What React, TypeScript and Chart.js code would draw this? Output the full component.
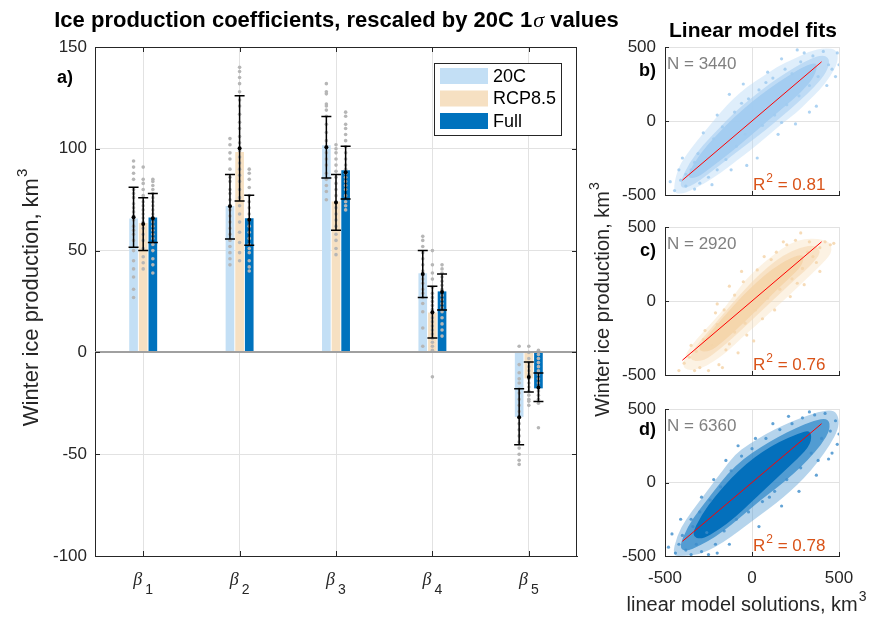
import React, { useEffect, useRef } from 'react';
import { Chart, registerables } from 'chart.js';

Chart.register(...registerables);

const W = 874;
const H = 618;
const FONT = '"Liberation Sans", Arial, Helvetica, sans-serif';
const SERIF = '"Liberation Serif", "DejaVu Serif", serif';
const AX = '#262626';
const GRID = '#e2e2e2';

// ---------------- Panel a data ----------------
const CATEGORY_SUBSCRIPTS = ['1', '2', '3', '4', '5'];
const SERIES_LABELS = ['20C', 'RCP8.5', 'Full'];
const SERIES_COLORS = ['#c3dff5', '#f6e0c2', '#0072bd'];
const SERIES_OFFSETS = [-0.1, 0, 0.1];
const Y_TICKS_A = [-100, -50, 0, 50, 100, 150];

const BAR_20C = [65.6, 71.8, 101.6, 38.7, -31.5];
const BAR_RCP85 = [63.4, 98.3, 73.9, 19.4, -12.6];
const BAR_FULL = [66.1, 65.7, 89.3, 29.8, -17.5];

const MEAN_20C = [66.4, 71.8, 100.8, 38.5, -31.8];
const MEAN_RCP85 = [63.1, 100.3, 73.6, 19.7, -12.1];
const MEAN_FULL = [65.9, 65.1, 88.5, 29.7, -17.2];

const LOW_20C = [51.6, 55.7, 85.7, 27.0, -45.4];
const HIGH_20C = [81.1, 87.4, 115.9, 50.1, -17.8];
const LOW_RCP85 = [50.1, 74.4, 60.0, 7.1, -19.5];
const HIGH_RCP85 = [76.0, 126.0, 87.4, 32.5, -4.7];
const LOW_FULL = [54.0, 52.6, 75.4, 20.8, -24.1];
const HIGH_FULL = [78.0, 77.2, 101.3, 38.5, -10.1];

const MEMBERS_20C = [
  [94, 91, 88, 85, 80, 78, 76, 73, 71, 69, 67, 65, 62, 60, 58, 55, 50, 45, 41, 37, 31, 27],
  [105, 102, 98, 95, 90, 86, 84, 80, 78, 75, 72, 70, 67, 64, 61, 58, 55, 52, 49, 46, 43],
  [132, 128, 127, 122, 121, 119, 116, 112, 108, 104, 101, 98, 95, 92, 88, 85, 82, 79, 75],
  [57, 55, 52, 49, 46, 43, 40, 38, 36, 34, 31, 29, 27, 24, 20, 12, 3],
  [3, -6, -10, -13, -15, -18, -20, -23, -26, -29, -32, -35, -38, -41, -44, -47, -50, -53, -55],
];
const MEMBERS_RCP85 = [
  [91, 85, 83, 80, 77, 74, 72, 70, 68, 66, 64, 61, 58, 55, 51, 47, 44, 41],
  [140, 138, 135, 132, 128, 124, 121, 117, 113, 110, 106, 103, 99, 96, 93, 90, 87, 84, 80, 76, 72, 68, 64, 59, 54, 49, 45],
  [102, 100, 98, 95, 92, 89, 86, 83, 80, 77, 74, 71, 68, 65, 62, 58, 55, 51, 48],
  [50, 43, 39, 36, 32, 29, 27, 25, 23, 21, 19, 17, 15, 13, 11, 9, 7, 5, 3, 1, -12],
  [3, 0, -3, -5, -7, -9, -11, -13, -15, -17, -19, -21, -23, -24, -26],
];
const MEMBERS_FULL = [
  [85, 84, 82, 80, 78, 76, 74, 72, 70, 68, 66, 64, 62, 60, 58, 56, 53, 50, 46, 43, 39],
  [90, 88, 85, 81, 77, 74, 71, 68, 65, 62, 59, 56, 53, 51, 49, 45, 42, 40],
  [118, 116, 112, 110, 107, 104, 101, 98, 95, 92, 90, 88, 86, 84, 82, 80, 77, 74, 72, 70],
  [43, 41, 39, 37, 35, 33, 31, 30, 28, 26, 24, 22, 20, 17, 14, 11, 8],
  [1, -1, -3, -5, -7, -9, -11, -13, -15, -17, -19, -21, -23, -25, -37],
];

// ---------------- Panels b-d data ----------------
const AXIS_TICKS_BD = [-500, 0, 500];
const FIT_X = [-400, 400];
const FIT_Y = [-400, 400];

const CLOUD_B_OUTER = [
  [-455, -480], [-430, -330], [-380, -230], [-320, -140], [-250, -40], [-180, 60], [-110, 150], [-30, 230],
  [60, 300], [150, 370], [240, 420], [330, 470], [420, 495], [490, 480], [495, 400], [450, 300], [390, 210],
  [320, 130], [250, 50], [170, -20], [90, -100], [0, -190], [-90, -270], [-180, -350], [-270, -420],
  [-350, -470], [-410, -495],
];
const CLOUD_B_MID = [
  [-420, -430], [-360, -280], [-280, -160], [-190, -50], [-100, 60], [0, 160], [100, 250], [200, 330],
  [300, 400], [400, 450], [450, 420], [430, 330], [360, 230], [270, 130], [180, 40], [80, -60], [-20, -150],
  [-120, -240], [-220, -330], [-320, -420], [-390, -460],
];
const CLOUD_B_CORE = [
  [-380, -380], [-300, -220], [-200, -90], [-100, 30], [0, 130], [100, 220], [200, 300], [300, 370],
  [380, 400], [360, 300], [280, 190], [180, 90], [80, -10], [-20, -110], [-120, -210], [-220, -300], [-320, -390],
];
const POINTS_B = [
  [-445, -470], [-410, -400], [-380, -440], [-350, -330], [-300, -420], [-420, -330], [-260, -250], [-310, -220],
  [-200, -330], [-220, -120], [-150, -260], [-170, -40], [-90, -170], [-100, 60], [-40, -90], [-20, 150],
  [60, -30], [40, 210], [130, 40], [120, 290], [200, 110], [190, 350], [270, 170], [280, 400], [330, 240],
  [350, 440], [380, 300], [410, 470], [440, 380], [460, 350], [490, 460], [480, 300], [300, 460], [-330, -280],
  [-250, -380], [-60, 120], [80, 260], [230, 320], [-380, -360], [170, -10],
  [-470, -410], [-400, -250], [-330, -460], [-230, -430], [-120, -330], [-280, -80], [-200, 40], [-130, 180],
  [-50, 250], [30, -250], [150, -90], [250, -20], [370, 100], [430, 240], [500, 380], [260, 480], [170, 420],
  [90, 330], [-30, -300], [330, 60],
];

const CLOUD_C_OUTER = [
  [-400, -440], [-380, -350], [-320, -260], [-250, -170], [-180, -80], [-110, 30], [-40, 140], [40, 230],
  [130, 320], [220, 390], [300, 420], [380, 420], [450, 400], [460, 330], [420, 270], [340, 180], [260, 90],
  [180, 0], [100, -80], [20, -170], [-60, -250], [-140, -340], [-220, -410], [-300, -460], [-370, -470],
];
const CLOUD_C_MID = [
  [-370, -400], [-320, -300], [-240, -190], [-160, -80], [-80, 30], [0, 130], [90, 230], [180, 310],
  [270, 360], [360, 380], [400, 330], [340, 240], [260, 160], [170, 60], [80, -40], [-10, -140],
  [-100, -240], [-190, -330], [-280, -410],
];
const CLOUD_C_CORE = [
  [-320, -330], [-240, -210], [-150, -90], [-60, 30], [30, 130], [120, 220], [220, 290], [300, 320],
  [290, 240], [210, 150], [120, 50], [30, -60], [-60, -160], [-150, -260], [-250, -350],
];
const POINTS_C = [
  [-390, -420], [-360, -380], [-320, -340], [-300, -450], [-250, -470], [-190, -430], [-280, -260], [-230, -300],
  [-200, -160], [-150, -330], [-160, -60], [-100, -210], [-100, 40], [-40, -150], [-50, 130], [20, -60],
  [30, 210], [90, 20], [110, 280], [160, 80], [200, 380], [230, 150], [250, 410], [290, 220], [320, 330],
  [370, 260], [390, 360], [420, 400], [450, 380], [330, 400], [-210, -80], [60, -120], [260, 120], [-130, -290],
  [140, 330],
  [-420, -470], [-350, -300], [-270, -200], [-330, -470], [-170, -450], [-80, -350], [-200, -20], [-130, 100],
  [-60, 200], [10, -270], [130, -60], [220, 30], [300, 110], [390, 200], [470, 390], [280, 460], [180, 400],
  [70, 300], [-30, -230], [350, 300],
];

const CLOUD_D_OUTER = [
  [-460, -500], [-430, -360], [-380, -250], [-310, -140], [-240, -30], [-170, 80], [-100, 190], [-20, 260],
  [80, 330], [180, 390], [280, 440], [380, 480], [470, 495], [500, 440], [495, 360], [450, 260], [380, 140],
  [300, 30], [220, -60], [140, -140], [60, -210], [-30, -290], [-120, -370], [-210, -440], [-300, -490], [-390, -500],
];
const CLOUD_D_MID = [
  [-420, -440], [-370, -300], [-300, -180], [-220, -60], [-140, 60], [-50, 160], [50, 240], [150, 310],
  [250, 370], [350, 420], [440, 440], [450, 360], [400, 260], [320, 150], [240, 60], [150, -30], [60, -110],
  [-30, -200], [-120, -290], [-210, -370], [-300, -430], [-380, -470],
];
const CLOUD_D_CORE = [
  [-350, -360], [-290, -220], [-210, -90], [-120, 30], [-30, 130], [60, 210], [160, 280], [260, 330],
  [340, 360], [340, 260], [260, 160], [170, 60], [80, -40], [-10, -140], [-100, -240], [-190, -320], [-290, -390],
];
const POINTS_D = [
  [-440, -480], [-420, -420], [-400, -360], [-380, -460], [-340, -300], [-320, -420], [-290, -470], [-300, -200],
  [-260, -340], [-240, -120], [-210, -420], [-180, -30], [-160, -330], [-120, 80], [-90, -250], [-60, 180],
  [-20, -200], [0, 230], [60, -130], [80, 300], [130, -60], [160, 360], [200, 20], [230, 400], [280, 100],
  [290, 440], [340, 200], [360, 460], [400, 300], [420, 470], [450, 350], [480, 420], [490, 260], [440, 160],
  [-350, -250], [-200, -480], [100, -100], [380, 150],
  [-480, -440], [-460, -350], [-410, -250], [-350, -490], [-250, -490], [-130, -420], [-290, -100], [-220, 20],
  [-150, 150], [-80, 250], [20, 300], [40, -300], [170, -160], [270, -60], [370, 50], [460, 200], [500, 330],
  [330, 480], [210, 450], [120, 400],
];

const PANEL_LETTERS = ['b)', 'c)', 'd)'];
const PANEL_N = ['N = 3440', 'N = 2920', 'N = 6360'];
const PANEL_R2 = ['0.81', '0.76', '0.78'];

// ---------------- helpers ----------------
function crisp(v: number) {
  return Math.round(v) + 0.5;
}

function drawSupText(ctx: any, x: number, y: number, base: string, sup: string, size: number, align: 'left' | 'center', weight = '') {
  ctx.font = `${weight}${size}px ${FONT}`;
  const w1 = ctx.measureText(base).width;
  ctx.font = `${weight}${Math.round(size * 0.7)}px ${FONT}`;
  const w2 = ctx.measureText(sup).width;
  const start = align === 'center' ? x - (w1 + w2) / 2 : x;
  ctx.textAlign = 'left';
  ctx.textBaseline = 'alphabetic';
  ctx.font = `${weight}${size}px ${FONT}`;
  ctx.fillText(base, start, y);
  ctx.font = `${weight}${Math.round(size * 0.7)}px ${FONT}`;
  ctx.fillText(sup, start + w1 + 1, y - size * 0.5);
}

// ---------------- Panel a ----------------
function MainChart() {
  const ref = useRef<HTMLCanvasElement | null>(null);
  useEffect(() => {
    const canvas = ref.current;
    if (!canvas) return;
    const barSeries = [BAR_20C, BAR_RCP85, BAR_FULL];
    const meanSeries = [MEAN_20C, MEAN_RCP85, MEAN_FULL];
    const lowSeries = [LOW_20C, LOW_RCP85, LOW_FULL];
    const highSeries = [HIGH_20C, HIGH_RCP85, HIGH_FULL];
    const memberSeries = [MEMBERS_20C, MEMBERS_RCP85, MEMBERS_FULL];
    const memberPoints: { x: number; y: number }[] = [];
    memberSeries.forEach((ser, s) =>
      ser.forEach((vals, c) => vals.forEach((v) => memberPoints.push({ x: c + 1 + SERIES_OFFSETS[s], y: v })))
    );

    const decor = {
      id: 'panelADecor',
      afterDatasetsDraw(chart: any) {
        const { ctx, chartArea: a } = chart;
        const xs = chart.scales.x;
        const ys = chart.scales.y;
        ctx.save();
        const y0 = Math.round(ys.getPixelForValue(0));
        ctx.strokeStyle = '#a0a0a0';
        ctx.lineWidth = 2;
        ctx.beginPath();
        ctx.moveTo(a.left, y0);
        ctx.lineTo(a.right, y0);
        ctx.stroke();
        ctx.strokeStyle = '#000';
        ctx.fillStyle = '#000';
        ctx.lineWidth = 1.5;
        for (let s = 0; s < barSeries.length; s++) {
          for (let c = 0; c < CATEGORY_SUBSCRIPTS.length; c++) {
            const px = xs.getPixelForValue(c + 1 + SERIES_OFFSETS[s]);
            const lo = ys.getPixelForValue(lowSeries[s][c]);
            const hi = ys.getPixelForValue(highSeries[s][c]);
            const m = ys.getPixelForValue(meanSeries[s][c]);
            ctx.beginPath();
            ctx.moveTo(px, lo);
            ctx.lineTo(px, hi);
            ctx.moveTo(px - 5, lo);
            ctx.lineTo(px + 5, lo);
            ctx.moveTo(px - 5, hi);
            ctx.lineTo(px + 5, hi);
            ctx.stroke();
            ctx.beginPath();
            ctx.arc(px, m, 2, 0, Math.PI * 2);
            ctx.fill();
          }
        }
        ctx.strokeStyle = AX;
        ctx.lineWidth = 1;
        ctx.beginPath();
        ctx.moveTo(crisp(a.left), crisp(a.top));
        ctx.lineTo(crisp(a.right - 1), crisp(a.top));
        ctx.lineTo(crisp(a.right - 1), crisp(a.bottom));
        for (const v of Y_TICKS_A) {
          const py = crisp(ys.getPixelForValue(v));
          ctx.moveTo(a.left, py);
          ctx.lineTo(a.left + 5, py);
          ctx.moveTo(a.right, py);
          ctx.lineTo(a.right - 5, py);
        }
        for (let c = 0; c < CATEGORY_SUBSCRIPTS.length; c++) {
          const px = crisp(xs.getPixelForValue(c + 1));
          ctx.moveTo(px, a.top);
          ctx.lineTo(px, a.top + 5);
          ctx.moveTo(px, a.bottom);
          ctx.lineTo(px, a.bottom - 5);
        }
        ctx.stroke();
        ctx.restore();
      },
      afterDraw(chart: any) {
        const { ctx } = chart;
        const xs = chart.scales.x;
        ctx.save();
        const lx = 434, ly = 63, lw = 127, lh = 72;
        ctx.fillStyle = '#fff';
        ctx.fillRect(lx, ly, lw, lh);
        ctx.strokeStyle = AX;
        ctx.lineWidth = 1;
        ctx.strokeRect(lx + 0.5, ly + 0.5, lw, lh);
        const rowY = [76, 98.5, 121];
        ctx.font = `18px ${FONT}`;
        ctx.textBaseline = 'middle';
        ctx.textAlign = 'left';
        SERIES_LABELS.forEach((lab, i) => {
          ctx.fillStyle = SERIES_COLORS[i];
          ctx.fillRect(440, rowY[i] - 8, 48, 16);
          ctx.fillStyle = '#000';
          ctx.fillText(lab, 493, rowY[i] + 1);
        });
        ctx.fillStyle = '#000';
        ctx.textBaseline = 'alphabetic';
        const p1 = 'Ice production coefficients, rescaled by 20C 1';
        const p2 = 'σ';
        const p3 = ' values';
        ctx.font = `bold 22px ${FONT}`;
        const w1 = ctx.measureText(p1).width;
        const w3 = ctx.measureText(p3).width;
        ctx.font = `italic 22px ${SERIF}`;
        const w2 = ctx.measureText(p2).width;
        const tx = 336 - (w1 + w2 + w3) / 2;
        ctx.font = `bold 22px ${FONT}`;
        ctx.fillText(p1, tx, 27);
        ctx.font = `italic 22px ${SERIF}`;
        ctx.fillText(p2, tx + w1 + 1, 27);
        ctx.font = `bold 22px ${FONT}`;
        ctx.fillText(p3, tx + w1 + w2 + 1, 27);
        ctx.font = `bold 18px ${FONT}`;
        ctx.fillText('a)', 57, 83);
        ctx.fillStyle = AX;
        CATEGORY_SUBSCRIPTS.forEach((sub, c) => {
          const px = xs.getPixelForValue(c + 1);
          ctx.font = `italic 18px ${SERIF}`;
          const wb = ctx.measureText('β').width;
          ctx.font = `14px ${FONT}`;
          const ws = ctx.measureText(sub).width;
          const start = px - (wb + 3 + ws) / 2;
          ctx.font = `italic 18px ${SERIF}`;
          ctx.fillText('β', start, 585);
          ctx.font = `14px ${FONT}`;
          ctx.fillText(sub, start + wb + 3, 594);
        });
        ctx.translate(30, 298);
        ctx.rotate(-Math.PI / 2);
        ctx.fillStyle = AX;
        drawSupText(ctx, 0, 8, 'Winter ice production, km', '3', 22, 'center');
        ctx.restore();
      },
    };

    const chart = new Chart(canvas, {
      type: 'bar',
      data: {
        datasets: [
          {
            type: 'scatter',
            label: 'ensemble members',
            data: memberPoints,
            pointRadius: 1.8,
            pointHoverRadius: 1.8,
            backgroundColor: '#b6b6b6',
            borderWidth: 0,
            order: 0,
          } as any,
          ...barSeries.map((vals, s) => ({
            type: 'bar',
            label: SERIES_LABELS[s],
            data: vals.map((v, c) => ({ x: c + 1 + SERIES_OFFSETS[s], y: v })),
            backgroundColor: SERIES_COLORS[s],
            borderWidth: 0,
            barThickness: 8,
            grouped: false,
            order: 1,
          })),
        ],
      } as any,
      options: {
        responsive: false,
        animation: false,
        events: [],
        layout: { padding: { left: 0, top: 47, right: W - 577, bottom: 0 } },
        plugins: { legend: { display: false }, tooltip: { enabled: false }, title: { display: false } },
        scales: {
          x: {
            type: 'linear',
            min: 0.5,
            max: 5.5,
            offset: false,
            afterBuildTicks: (s: any) => {
              s.ticks = CATEGORY_SUBSCRIPTS.map((_, i) => ({ value: i + 1 }));
            },
            afterFit: (s: any) => {
              s.height = 62;
            },
            ticks: { display: false },
            grid: { color: GRID, drawTicks: false, offset: false },
            border: { display: true, color: AX, width: 1 },
          },
          y: {
            type: 'linear',
            min: -100,
            max: 150,
            afterBuildTicks: (s: any) => {
              s.ticks = Y_TICKS_A.map((v) => ({ value: v }));
            },
            afterFit: (s: any) => {
              s.width = 95;
            },
            ticks: { font: { size: 17, family: FONT }, color: AX, padding: 8 },
            grid: { color: GRID, drawTicks: false },
            border: { display: true, color: AX, width: 1 },
          },
        },
      } as any,
      plugins: [decor],
    });
    return () => chart.destroy();
  }, []);
  return <canvas ref={ref} width={W} height={H} style={{ position: 'absolute', left: 0, top: 0 }} />;
}

// ---------------- Panels b-d ----------------
const PANEL_CFG = [
  {
    top: 47, bottom: 195, layers: [CLOUD_B_OUTER, CLOUD_B_MID, CLOUD_B_CORE], points: POINTS_B,
    layerColors: ['rgba(176,212,244,0.4)', 'rgba(168,207,242,0.6)', 'rgba(160,202,240,0.85)'],
    pointColor: 'rgba(160,203,240,0.85)', letterBase: 76, showX: false,
  },
  {
    top: 227, bottom: 375, layers: [CLOUD_C_OUTER, CLOUD_C_MID, CLOUD_C_CORE], points: POINTS_C,
    layerColors: ['rgba(247,222,186,0.4)', 'rgba(246,217,178,0.6)', 'rgba(244,212,168,0.85)'],
    pointColor: 'rgba(245,213,170,0.85)', letterBase: 256, showX: false,
  },
  {
    top: 409, bottom: 556, layers: [CLOUD_D_OUTER, CLOUD_D_MID, CLOUD_D_CORE], points: POINTS_D,
    layerColors: ['rgba(90,160,212,0.45)', 'rgba(40,132,200,0.7)', 'rgba(0,110,186,0.95)'],
    pointColor: 'rgba(60,140,202,0.8)', letterBase: 435, showX: true,
  },
];

function ScatterPanel({ idx }: { idx: number }) {
  const ref = useRef<HTMLCanvasElement | null>(null);
  useEffect(() => {
    const canvas = ref.current;
    if (!canvas) return;
    const cfg = PANEL_CFG[idx];

    const cloud = {
      id: 'cloud' + idx,
      beforeDatasetsDraw(chart: any) {
        const { ctx, chartArea: a } = chart;
        const xs = chart.scales.x;
        const ys = chart.scales.y;
        ctx.save();
        ctx.beginPath();
        ctx.rect(a.left, a.top, a.right - a.left, a.bottom - a.top);
        ctx.clip();
        const smoothPoly = (pts: number[][], color: string) => {
          const px = pts.map(([x, y]) => [xs.getPixelForValue(x), ys.getPixelForValue(y)]);
          const n = px.length;
          const mid = (i: number) => {
            const p = px[i % n];
            const q = px[(i + 1) % n];
            return [(p[0] + q[0]) / 2, (p[1] + q[1]) / 2];
          };
          ctx.beginPath();
          const m0 = mid(n - 1);
          ctx.moveTo(m0[0], m0[1]);
          for (let i = 0; i < n; i++) {
            const m = mid(i);
            ctx.quadraticCurveTo(px[i][0], px[i][1], m[0], m[1]);
          }
          ctx.closePath();
          ctx.fillStyle = color;
          ctx.fill();
        };
        cfg.layers.forEach((layer, i) => smoothPoly(layer, cfg.layerColors[i]));
        ctx.restore();
      },
    };

    const decor = {
      id: 'decor' + idx,
      afterDatasetsDraw(chart: any) {
        const { ctx, chartArea: a } = chart;
        const xs = chart.scales.x;
        const ys = chart.scales.y;
        ctx.save();
        ctx.strokeStyle = AX;
        ctx.lineWidth = 1;
        ctx.beginPath();
        for (const v of AXIS_TICKS_BD) {
          const px = crisp(xs.getPixelForValue(v));
          ctx.moveTo(px, a.bottom);
          ctx.lineTo(px, a.bottom - 4);
          const py = crisp(ys.getPixelForValue(v));
          ctx.moveTo(a.left, py);
          ctx.lineTo(a.left + 4, py);
        }
        ctx.stroke();
        ctx.fillStyle = '#808080';
        ctx.font = `17px ${FONT}`;
        ctx.textAlign = 'left';
        ctx.textBaseline = 'alphabetic';
        ctx.fillText(PANEL_N[idx], 667, a.top + 22);
        ctx.fillStyle = '#d95319';
        ctx.font = `17px ${FONT}`;
        const wr = ctx.measureText('R').width;
        ctx.fillText('R', 753, a.bottom - 5);
        ctx.font = `12px ${FONT}`;
        const w2 = ctx.measureText('2').width;
        ctx.fillText('2', 753 + wr + 1, a.bottom - 13);
        ctx.font = `17px ${FONT}`;
        ctx.fillText(' = ' + PANEL_R2[idx], 753 + wr + w2 + 1, a.bottom - 5);
        ctx.restore();
      },
      afterDraw(chart: any) {
        const { ctx } = chart;
        ctx.save();
        ctx.fillStyle = '#000';
        ctx.textBaseline = 'alphabetic';
        ctx.font = `bold 18px ${FONT}`;
        ctx.textAlign = 'right';
        ctx.fillText(PANEL_LETTERS[idx], 656, cfg.letterBase);
        if (idx === 0) {
          ctx.textAlign = 'center';
          ctx.font = `bold 21px ${FONT}`;
          ctx.fillText('Linear model fits', 753, 37);
        }
        if (idx === 1) {
          ctx.fillStyle = AX;
          ctx.translate(602, 300);
          ctx.rotate(-Math.PI / 2);
          drawSupText(ctx, 0, 7, 'Winter ice production, km', '3', 20, 'center');
          ctx.setTransform(1, 0, 0, 1, 0, 0);
        }
        if (idx === 2) {
          ctx.fillStyle = AX;
          drawSupText(ctx, 746, 611, 'linear model solutions, km', '3', 20, 'center');
        }
        ctx.restore();
      },
    };

    const chart = new Chart(canvas, {
      type: 'scatter',
      data: {
        datasets: [
          {
            label: 'model years',
            data: cfg.points.map(([x, y]) => ({ x, y })),
            pointRadius: 1.6,
            pointHoverRadius: 1.6,
            backgroundColor: cfg.pointColor,
            borderWidth: 0,
            order: 1,
          },
          {
            type: 'line',
            label: 'fit',
            data: FIT_X.map((x, i) => ({ x, y: FIT_Y[i] })),
            borderColor: '#ff0000',
            borderWidth: 1,
            pointRadius: 0,
            fill: false,
            order: 0,
          } as any,
        ],
      },
      options: {
        responsive: false,
        animation: false,
        events: [],
        layout: { padding: { left: 665 - 60, right: W - 839, top: cfg.top, bottom: H - cfg.bottom - 30 } },
        plugins: { legend: { display: false }, tooltip: { enabled: false } },
        scales: {
          x: {
            type: 'linear',
            min: -500,
            max: 500,
            afterBuildTicks: (s: any) => {
              s.ticks = AXIS_TICKS_BD.map((v) => ({ value: v }));
            },
            afterFit: (s: any) => {
              s.height = 30;
            },
            ticks: { display: cfg.showX, font: { size: 17, family: FONT }, color: AX, padding: 12, autoSkip: false, maxRotation: 0 },
            grid: { color: GRID, drawTicks: false },
            border: { display: true, color: AX, width: 1 },
          },
          y: {
            type: 'linear',
            min: -500,
            max: 500,
            afterBuildTicks: (s: any) => {
              s.ticks = AXIS_TICKS_BD.map((v) => ({ value: v }));
            },
            afterFit: (s: any) => {
              s.width = 60;
            },
            ticks: { font: { size: 17, family: FONT }, color: AX, padding: 9, autoSkip: false },
            grid: { color: GRID, drawTicks: false },
            border: { display: true, color: AX, width: 1 },
          },
        },
      } as any,
      plugins: [cloud, decor],
    });
    return () => chart.destroy();
  }, [idx]);
  return <canvas ref={ref} width={W} height={H} style={{ position: 'absolute', left: 0, top: 0 }} />;
}

export default function App() {
  return (
    <div style={{ position: 'absolute', left: 0, top: 0, width: W, height: H, background: '#fff', overflow: 'hidden' }}>
      <MainChart />
      <ScatterPanel idx={0} />
      <ScatterPanel idx={1} />
      <ScatterPanel idx={2} />
    </div>
  );
}
